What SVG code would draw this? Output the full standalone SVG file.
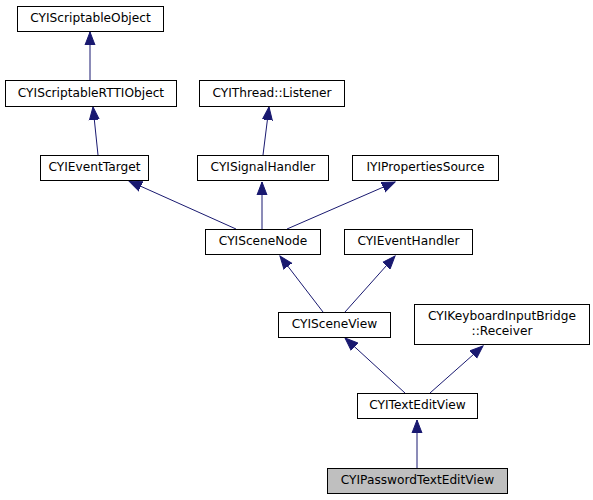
<svg xmlns="http://www.w3.org/2000/svg" width="593" height="500" viewBox="0 0 593 500">
<defs>
<style>
.n rect{fill:#fff;stroke:#000;stroke-width:1}
.n text{font-family:"DejaVu Sans",sans-serif;font-size:12.2px;text-anchor:middle;fill:#000}
.e line{stroke:#191970;stroke-width:1;fill:none}
</style>
<marker id="a" markerWidth="14" markerHeight="12" refX="13" refY="6" orient="auto" markerUnits="userSpaceOnUse">
<path d="M0,1 L13,6 L0,11 Z" fill="#191970" stroke="#191970"/>
</marker>
</defs>
<rect width="593" height="500" fill="#fff"/>
<g id="connectors" class="e">
<line x1="90" y1="80" x2="90" y2="32" marker-end="url(#a)"/>
<line x1="98" y1="155" x2="93" y2="107" marker-end="url(#a)"/>
<line x1="263" y1="155" x2="269" y2="107" marker-end="url(#a)"/>
<line x1="236" y1="229" x2="129" y2="181" marker-end="url(#a)"/>
<line x1="262" y1="229" x2="262" y2="182" marker-end="url(#a)"/>
<line x1="287" y1="229" x2="395" y2="182" marker-end="url(#a)"/>
<line x1="323" y1="312" x2="280" y2="256" marker-end="url(#a)"/>
<line x1="345" y1="312" x2="395" y2="256" marker-end="url(#a)"/>
<line x1="405" y1="393" x2="345" y2="338" marker-end="url(#a)"/>
<line x1="430" y1="393" x2="483" y2="346" marker-end="url(#a)"/>
<line x1="417" y1="468" x2="417" y2="420" marker-end="url(#a)"/>
</g>
<g id="CYIScriptableObject" class="n"><rect x="17.5" y="6.5" width="146" height="25"/><text x="90.5" y="22">CYIScriptableObject</text></g>
<g id="CYIScriptableRTTIObject" class="n"><rect x="5.5" y="80.5" width="171" height="26"/><text x="91" y="97">CYIScriptableRTTIObject</text></g>
<g id="CYIEventTarget" class="n"><rect x="40.5" y="155.5" width="108" height="25"/><text x="94.5" y="171">CYIEventTarget</text></g>
<g id="CYIThreadListener" class="n"><rect x="199.5" y="80.5" width="145" height="26"/><text x="272" y="97">CYIThread::Listener</text></g>
<g id="CYISignalHandler" class="n"><rect x="197.5" y="155.5" width="131" height="25"/><text x="263" y="171">CYISignalHandler</text></g>
<g id="IYIPropertiesSource" class="n"><rect x="352.5" y="155.5" width="146" height="25"/><text x="425.5" y="171">IYIPropertiesSource</text></g>
<g id="CYISceneNode" class="n"><rect x="205.5" y="229.5" width="115" height="25"/><text x="263" y="245">CYISceneNode</text></g>
<g id="CYIEventHandler" class="n"><rect x="344.5" y="229.5" width="128" height="25"/><text x="408.5" y="245">CYIEventHandler</text></g>
<g id="CYISceneView" class="n"><rect x="278.5" y="312.5" width="112" height="25"/><text x="334.5" y="328">CYISceneView</text></g>
<g id="CYIKeyboardInputBridgeReceiver" class="n"><rect x="414.5" y="304.5" width="175" height="40"/><text x="502" y="320">CYIKeyboardInputBridge</text><text x="502" y="335">::Receiver</text></g>
<g id="CYITextEditView" class="n"><rect x="357.5" y="393.5" width="120" height="25"/><text x="417.5" y="409">CYITextEditView</text></g>
<g id="CYIPasswordTextEditView" class="n"><rect x="327.5" y="468.5" width="180" height="25" style="fill:#bfbfbf"/><text x="417.5" y="484">CYIPasswordTextEditView</text></g>
</svg>
